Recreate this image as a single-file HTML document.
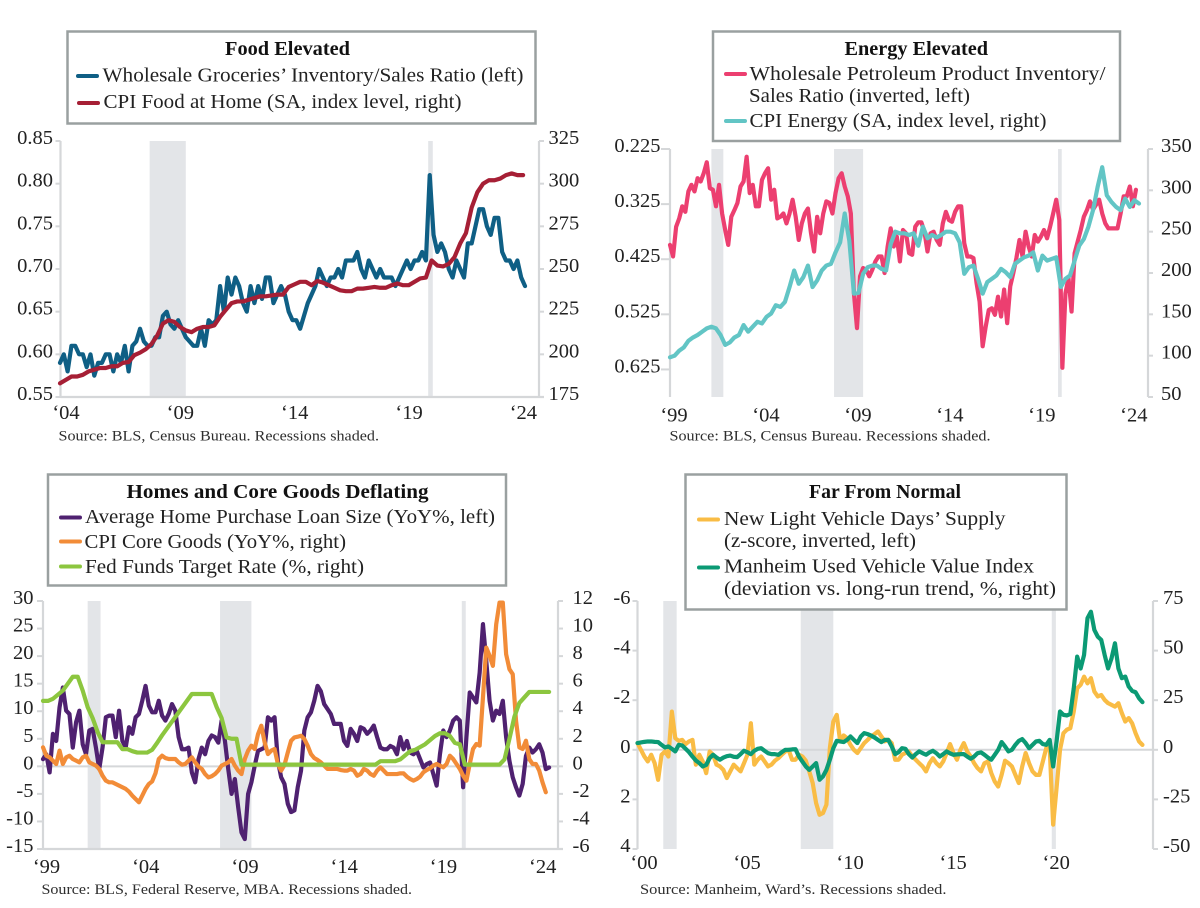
<!DOCTYPE html>
<html lang="en">
<head>
<meta charset="utf-8">
<title>Inventory and Price Charts</title>
<style>
html,body{margin:0;padding:0;background:#fff;}
svg{display:block;filter:blur(0.3px);}
text{font-family:"Liberation Serif",serif;fill:#222;}
.tick{font-size:20.5px;}
.leg{font-size:20.5px;}
.ttl{font-size:20.5px;font-weight:bold;fill:#111;}
.src{font-size:15px;fill:#2e2e2e;}
.box{fill:#fff;stroke:#9aa0a0;stroke-width:2.5;}
</style>
</head>
<body>
<svg id="page" xmlns="http://www.w3.org/2000/svg" width="1200" height="908" viewBox="0 0 1200 908">
<rect x="0" y="0" width="1200" height="908" fill="#fff"/>
<g id="plot-food"></g>
<g id="plot-energy"></g>
<g id="plot-homes"></g>
<g id="plot-vehicles"></g>

<g>
<rect class="box" x="67.5" y="31.5" width="468" height="92"/>
<text class="ttl" x="225" y="55" textLength="125" lengthAdjust="spacingAndGlyphs">Food Elevated</text>
<line x1="78" x2="97" y1="76" y2="76" stroke="#0f5f85" stroke-width="4" stroke-linecap="round"/>
<text class="leg" x="102.5" y="81.5" textLength="421" lengthAdjust="spacingAndGlyphs">Wholesale Groceries’ Inventory/Sales Ratio (left)</text>
<line x1="79" x2="98" y1="103" y2="103" stroke="#a61f35" stroke-width="4" stroke-linecap="round"/>
<text class="leg" x="103.5" y="108" textLength="358" lengthAdjust="spacingAndGlyphs">CPI Food at Home (SA, index level, right)</text>
</g>

<g>
<rect class="box" x="713" y="31.5" width="407" height="109.5"/>
<text class="ttl" x="844.5" y="55" textLength="143.5" lengthAdjust="spacingAndGlyphs">Energy Elevated</text>
<line x1="726" x2="745" y1="74" y2="74" stroke="#ec3f70" stroke-width="4" stroke-linecap="round"/>
<text class="leg" x="749.5" y="80" textLength="356" lengthAdjust="spacingAndGlyphs">Wholesale Petroleum Product Inventory/</text>
<text class="leg" x="749" y="102" textLength="221" lengthAdjust="spacingAndGlyphs">Sales Ratio (inverted, left)</text>
<line x1="726" x2="745" y1="121" y2="121" stroke="#62c5c5" stroke-width="4" stroke-linecap="round"/>
<text class="leg" x="749.5" y="127" textLength="297" lengthAdjust="spacingAndGlyphs">CPI Energy (SA, index level, right)</text>
</g>

<g>
<rect class="box" x="48" y="474.5" width="458" height="111"/>
<text class="ttl" x="126.5" y="498" textLength="302" lengthAdjust="spacingAndGlyphs">Homes and Core Goods Deflating</text>
<line x1="61" x2="80" y1="517.5" y2="517.5" stroke="#4f2170" stroke-width="4" stroke-linecap="round"/>
<text class="leg" x="85" y="523" textLength="410" lengthAdjust="spacingAndGlyphs">Average Home Purchase Loan Size (YoY%, left)</text>
<line x1="61" x2="80" y1="541.5" y2="541.5" stroke="#f28c38" stroke-width="4" stroke-linecap="round"/>
<text class="leg" x="84.5" y="548" textLength="261.5" lengthAdjust="spacingAndGlyphs">CPI Core Goods (YoY%, right)</text>
<line x1="61" x2="80" y1="566.5" y2="566.5" stroke="#8cc63f" stroke-width="4" stroke-linecap="round"/>
<text class="leg" x="85" y="573" textLength="279" lengthAdjust="spacingAndGlyphs">Fed Funds Target Rate (%, right)</text>
</g>

<g>
<rect class="box" x="685.5" y="474.5" width="381" height="135"/>
<text class="ttl" x="809" y="498" textLength="152" lengthAdjust="spacingAndGlyphs">Far From Normal</text>
<line x1="699" x2="718" y1="519.5" y2="519.5" stroke="#f9bc45" stroke-width="4" stroke-linecap="round"/>
<text class="leg" x="724" y="525" textLength="281.5" lengthAdjust="spacingAndGlyphs">New Light Vehicle Days’ Supply</text>
<text class="leg" x="724" y="547" textLength="192" lengthAdjust="spacingAndGlyphs">(z-score, inverted, left)</text>
<line x1="699" x2="718" y1="567.5" y2="567.5" stroke="#0b9a74" stroke-width="4" stroke-linecap="round"/>
<text class="leg" x="724" y="572.5" textLength="310" lengthAdjust="spacingAndGlyphs">Manheim Used Vehicle Value Index</text>
<text class="leg" x="724" y="595" textLength="332" lengthAdjust="spacingAndGlyphs">(deviation vs. long-run trend, %, right)</text>
</g>

<text class="src" x="58.5" y="440.5" textLength="320.5" lengthAdjust="spacingAndGlyphs">Source: BLS, Census Bureau. Recessions shaded.</text>
<text class="src" x="669.5" y="440.5" textLength="321" lengthAdjust="spacingAndGlyphs">Source: BLS, Census Bureau. Recessions shaded.</text>
<text class="src" x="41.5" y="894" textLength="370.5" lengthAdjust="spacingAndGlyphs">Source: BLS, Federal Reserve, MBA. Recessions shaded.</text>
<text class="src" x="640" y="894" textLength="306.5" lengthAdjust="spacingAndGlyphs">Source: Manheim, Ward’s. Recessions shaded.</text>
</svg>

<script>
/* ---------- shared recession dates (decimal years) ---------- */
const recessionStarts = [2001.25, 2007.92, 2020.1];
const recessionEnds = [2001.9, 2009.5, 2020.3];

/* ---------- Food Elevated ---------- */
const foodYearTicks = [2004, 2009, 2014, 2019, 2024];
const foodYearLabels = ['‘04', '‘09', '‘14', '‘19', '‘24'];
const foodLeftTicks = [0.85, 0.80, 0.75, 0.70, 0.65, 0.60, 0.55];
const foodLeftLabels = ['0.85', '0.80', '0.75', '0.70', '0.65', '0.60', '0.55'];
const foodRightTicks = [325, 300, 275, 250, 225, 200, 175];
const foodInventoryValues = [
 .59,.60,.58,.61,.61,.60,
 .60,.585,.60,.575,.59,.59,
 .60,.60,.58,.60,.59,.61,
 .58,.61,.615,.63,.615,.61,
 .61,.62,.62,.645,.65,.635,
 .63,.64,.63,.62,.615,.61,
 .61,.63,.61,.64,.635,.64,
 .68,.65,.69,.67,.69,.68,
 .66,.65,.68,.66,.68,.665,
 .69,.69,.66,.67,.68,.67,
 .65,.64,.64,.63,.645,.66,
 .67,.68,.70,.69,.68,.69,
 .69,.70,.69,.71,.71,.71,
 .72,.70,.69,.71,.70,.69,
 .70,.69,.69,.69,.68,.69,
 .70,.71,.70,.71,.71,.72,
 .71,.81,.74,.72,.73,.72,
 .70,.69,.71,.70,.69,.73,
 .73,.75,.77,.77,.75,.74,
 .76,.76,.72,.71,.71,.70,
 .71,.69,.68];
const foodCpiValues = [
 183,185,187,187, 188,190,191,192, 192,193,193,195, 195.5,199.5,201,203,
 206,211,218,220, 219,216,214,213, 215,216,216,217, 222,226,230,231,
 231,232,233,234, 234,234.5,235,235, 239.5,241,242.5,242.5, 240.5,243,242,240.5,
 239,237.5,237,237, 238.5,238.5,239,239.5, 239,239,240.5,241.5, 240.5,240.5,242.5,244.5,
 245,255,252,251.5, 253,257,265,271, 286,295,300,302, 302,303,305,306, 305,305];

/* ---------- Energy Elevated ---------- */
const energyYearTicks = [1999, 2004, 2009, 2014, 2019, 2024];
const energyYearLabels = ['‘99', '‘04', '‘09', '‘14', '‘19', '‘24'];
const energyLeftTicks = [0.225, 0.325, 0.425, 0.525, 0.625];
const energyLeftLabels = ['0.225', '0.325', '0.425', '0.525', '0.625'];
const energyRightTicks = [350, 300, 250, 200, 150, 100, 50];
const energyInventoryValues = [
 .399,.420,.366,.351,.329,.339,
 .302,.290,.302,.278,.284,.269,
 .249,.296,.299,.329,.290,.342,
 .372,.399,.348,.336,.323,.293,
 .284,.239,.305,.290,.329,.329,
 .281,.269,.260,.317,.299,.351,
 .348,.342,.360,.342,.317,.348,
 .390,.360,.342,.333,.378,.411,
 .348,.378,.342,.320,.323,.342,
 .305,.278,.269,.293,.311,.342,
 .487,.550,.456,.441,.444,.456,
 .444,.429,.420,.420,.450,.402,
 .369,.402,.384,.429,.372,.378,
 .414,.417,.366,.358,.358,.375,
 .411,.378,.375,.390,.399,.360,
 .339,.354,.357,.339,.329,.329,
 .396,.420,.420,.423,.468,.502,
 .583,.547,.517,.514,.526,.493,
 .529,.480,.541,.474,.450,.423,
 .390,.420,.375,.402,.420,.381,
 .393,.384,.372,.387,.366,.342,
 .317,.354,.622,.487,.459,.520,
 .414,.393,.372,.348,.336,.320,
 .335,.326,.317,.342,.360,.369,
 .369,.369,.369,.342,.311,.311,
 .293,.329,.299];
const energyCpiValues = [
 98,100,106,110, 118,122,125,129, 133,135,133,125, 113,116,122,125,
 137,129,135,141, 139,147,151,161, 159,165,183,203, 187,195,209,183,
 191,203,209,211, 225,237,272,239, 175,176,199,207, 209,209,205,203,
 235,250,248,248, 246,248,233,256, 242,246,243,246, 250,250,248,237,
 199,207,209,193, 175,189,193,197, 205,201,195,211, 215,219,221,225,
 203,221,215,217, 219,183,193,197, 215,233,241,256, 276,304,328,294,
 286,280,276,290, 280,288,284];

/* ---------- Homes and Core Goods Deflating ---------- */
const homesYearTicks = [1999, 2004, 2009, 2014, 2019, 2024];
const homesYearLabels = ['‘99', '‘04', '‘09', '‘14', '‘19', '‘24'];
const homesLeftTicks = [30, 25, 20, 15, 10, 5, 0, -5, -10, -15];
const homesRightTicks = [12, 10, 8, 6, 4, 2, 0, -2, -4, -6];
const loanSizeValues = [
 1.3,2.2,-1.1,5.9,4.6,10.7,
 14.3,10.1,9.5,3.4,8,10.1,
 4,2.2,6.5,6.8,3.4,-.5,
 3.4,8.9,9.2,9.2,5.3,10.1,
 4.6,3.4,7.1,5.9,8.9,9.5,
 11.9,14.6,11,9.8,9.8,11.9,
 9.2,8.3,9.5,11.3,10.1,5.3,
 3.1,3.1,3.4,-1.1,-2.9,1.3,
 3.4,2.2,4.6,5.6,5.3,4.3,
 8.3,4.6,-.5,-5,-2.3,-7.4,
 -12,-13.2,-5,-2.9,.1,2.8,
 3.1,3.4,8.9,8.3,8.9,1,
 -2,-3.2,-6.8,-8.3,-8,-3.8,
 -.8,6.5,8.9,9.8,11.9,14.6,
 13.6,11.3,10.4,9.5,7.7,7.7,
 7.7,4.6,3.7,6.8,5.9,4.6,
 7.1,6.8,5.9,6.5,7.4,5.3,
 3.4,3.1,3.1,3.7,3.4,2.2,
 5.3,3.1,4.6,2.5,2.2,2.8,
 1.3,-.2,.4,.7,-1.4,-3.5,
 2.2,6.5,5.3,6.5,8.3,8.9,
 8.3,-3.8,5.3,13.4,12.5,11.6,
 17,25.8,19.1,11.9,8.3,10.1,
 9.5,11.9,5.3,1,-2,-3.8,
 -5.3,-3.2,1.9,3.4,2.5,3.1,
 4,2.5,-.5,-.2];
const coreGoodsValues = [
 1.38,.77,.65,.41,.17,1.14,
 .17,.65,.77,.53,.41,.29,
 .65,.77,.29,.17,.05,-.19,
 -.68,-1.04,-1.16,-1.16,-1.28,-1.4,
 -1.52,-1.64,-1.84,-2.13,-2.37,-2.61,
 -2.13,-1.64,-1.28,-1.09,-.51,.53,
 .77,.6,.53,.53,.53,.29,
 .12,.17,.41,.65,.29,-.02,
 -.19,-.56,-.8,-.72,-.56,-.31,
 .05,.17,.29,.53,.05,-.31,
 -.56,.53,1.14,1.5,1.26,2.34,
 2.95,1.74,.89,1.14,1.26,.17,
 -.31,.1,1.01,1.86,2.1,2.15,
 2.22,1.98,1.5,.89,.6,.46,
 .29,.05,-.19,-.19,-.19,-.19,
 -.27,-.31,-.31,-.19,-.31,-.68,
 -.56,-.19,-.31,-.56,-.68,-.31,
 -.07,-.31,-.56,-.56,-.56,-.56,
 -.51,-.51,-.75,-.92,-1.04,-.92,
 -.75,-.43,-.27,-.14,.05,.17,
 .05,-.07,.17,.77,.53,.17,
 -.19,-.68,-1.04,.17,1.26,1.62,
 1.5,5,8.62,8.02,7.29,10.31,
 11.88,11.88,8.14,7.05,6.69,3.31,
 1.38,1.26,1.86,.53,.17,.17,
 -.31,-1.16,-1.88];
const fedFundsValues = [
 4.75,4.75,4.9,5.2, 5.5,6,6.5,6.5, 5.5,4.3,3.5,2.5, 1.75,1.75,1.75,1.75,
 1.25,1.25,1.1,1, 1,1,1.2,1.7, 2.25,2.75,3.25,3.75, 4.25,4.75,5.25,5.25,
 5.25,5.25,5.25,4.3, 3.5,2.1,2,2, .125,.125,.125,.125, .125,.125,.125,.125,
 .125,.125,.125,.125, .125,.125,.125,.125, .125,.125,.125,.125, .125,.125,.125,.125,
 .125,.125,.125,.125, .375,.375,.375,.375, .5,.8,1.1,1.2, 1.4,1.6,1.9,2.2,
 2.4,2.4,2.2,1.7, 1.6,.125,.125,.125, .125,.125,.125,.125, .125,.5,2,3.6,
 4.6,5,5.4,5.4, 5.4,5.4,5.4];

/* ---------- Far From Normal ---------- */
const vehicleYearTicks = [2000, 2005, 2010, 2015, 2020];
const vehicleYearLabels = ['‘00', '‘05', '‘10', '‘15', '‘20'];
const vehicleLeftTicks = [-6, -4, -2, 0, 2, 4];
const vehicleRightTicks = [75, 50, 25, 0, -25, -50];
const daysSupplyValues = [
 -.27,0,.27,.47,.2,.54,
 1.21,.2,.07,.27,-1.54,-.47,
 -.36,-.4,-.23,-.34,-.4,.6,
 .2,.47,.94,.07,.2,.6,
 .67,.81,1.14,.87,.6,.74,
 .87,.54,.2,-1.07,.6,.4,
 .27,.47,.67,.6,.44,.34,
 .2,.07,0,.4,.4,.2,
 .27,.44,.87,1.34,2.15,2.62,
 2.55,2.21,-.07,-1.14,-1.41,-.34,
 -.58,-.47,-.2,0,.13,-.07,
 -.27,-.4,-.54,-.63,-.74,-.54,
 -.34,-.4,-.27,.4,.4,.2,
 .13,.07,.27,.4,.54,.67,
 .87,.54,.34,.54,.67,.47,
 .13,-.23,.13,.4,0,-.27,
 .07,.27,.54,.74,.87,.54,
 .47,.94,1.28,1.48,1.01,.44,
 .54,.67,1.01,1.34,.67,.13,
 .54,.87,1.01,1.01,.47,-.07,
 -.07,3.02,1.54,0,-.67,-.81,
 -.87,-1.54,-2.48,-2.62,-2.95,-2.68,
 -2.89,-2.35,-2.15,-2.21,-2.01,-1.88,
 -1.81,-1.74,-1.88,-1.48,-1.14,-1.28,
 -1.07,-.67,-.34,-.2];
const manheimValues = [
 3.4,3.7,4,4.2,4.2,4,
 3.9,2.5,1.2,1.7,.5,-.8,
 2.5,2.2,.5,-1.2,-3.4,-5.4,
 -6.7,-8.4,-7.6,-4.2,-2.5,-3.9,
 -5,-3.9,-3.2,-2.9,-3.5,-3.7,
 -2.2,-.5,-1.2,-2.2,-.5,.5,
 .8,-.5,-1.7,-2.2,-2.2,-2.5,
 -1.2,0,0,.2,.3,-3.4,
 -5.9,-8.4,-10.1,-8.4,-6.7,-15.1,
 -13.4,-10.1,-5,.8,4.5,4.2,
 3.9,5,6.7,5,3.4,6.7,
 8.4,7.9,7.2,6.2,5,3.9,
 5,5,1.7,-2.2,-1.2,.8,
 .5,-2.2,-3.9,-2.2,-.8,-1.7,
 -2.5,-1.3,-.5,-1.7,-3.4,-2.2,
 -.8,-1.8,-2.5,-2.3,-2.2,-2.2,
 -3.4,-4.5,-3.4,-1.7,-1.3,-2.5,
 -3.9,-5,-2.5,0,3.9,1.7,
 -.8,0,2.5,4.5,5.4,3.4,
 .8,2.5,4.2,4.5,2.9,2.5,
 5,-8.4,4.2,19.3,17.6,17.3,
 18,31,47,41,47.8,66.3,
 69.6,60.4,57,55.4,47.8,41,
 46.1,53.7,41,36.1,36.9,31.9,
 29.7,29,26,24];

/* ---------- rendering ---------- */
const SVGNS = 'http://www.w3.org/2000/svg';
const AXIS_COLOR = '#d5d7d9';
const RECESSION_COLOR = '#e3e5e8';

function linearScale(d0, d1, r0, r1) {
  return function (v) { return r0 + (v - d0) * (r1 - r0) / (d1 - d0); };
}

function addLine(parent, x1, y1, x2, y2, color, width) {
  const el = document.createElementNS(SVGNS, 'line');
  el.setAttribute('x1', x1);
  el.setAttribute('y1', y1);
  el.setAttribute('x2', x2);
  el.setAttribute('y2', y2);
  el.setAttribute('stroke', color);
  el.setAttribute('stroke-width', width);
  parent.appendChild(el);
  return el;
}

function addLabel(parent, x, y, anchor, content) {
  const el = document.createElementNS(SVGNS, 'text');
  el.setAttribute('class', 'tick');
  el.setAttribute('x', x);
  el.setAttribute('y', y);
  el.setAttribute('text-anchor', anchor);
  el.textContent = content;
  parent.appendChild(el);
  return el;
}

function drawSeries(parent, name, values, startYear, perYear, xScale, yScale, color) {
  let d = '';
  values.forEach(function (v, i) {
    const x = xScale(startYear + i / perYear);
    const y = yScale(v);
    d += (i === 0 ? 'M' : 'L') + x.toFixed(2) + ' ' + y.toFixed(2);
  });
  const el = document.createElementNS(SVGNS, 'path');
  el.setAttribute('d', d);
  el.setAttribute('fill', 'none');
  el.setAttribute('stroke', color);
  el.setAttribute('stroke-width', '4.2');
  el.setAttribute('stroke-linejoin', 'round');
  el.setAttribute('stroke-linecap', 'round');
  
  
  parent.appendChild(el);
}

function drawFrame(c) {
  const g = document.getElementById(c.id);
  const x = c.x;

  c.recessions.forEach(function (idx) {
    const r = document.createElementNS(SVGNS, 'rect');
    r.setAttribute('x', x(recessionStarts[idx]));
    r.setAttribute('y', c.top);
    r.setAttribute('width', x(recessionEnds[idx]) - x(recessionStarts[idx]));
    r.setAttribute('height', c.bottom - c.top);
    r.setAttribute('fill', RECESSION_COLOR);
    
    
    g.appendChild(r);
  });

  if (c.zeroY !== undefined) {
    const z = addLine(g, c.left, c.zeroY, c.right, c.zeroY, AXIS_COLOR, 2);
    
    
  }

  const la = addLine(g, c.left, c.top, c.left, c.bottom, AXIS_COLOR, 2.2);
  
  
  const ra = addLine(g, c.right, c.top, c.right, c.bottom, AXIS_COLOR, 2.2);
  
  
  if (c.hasBottom) {
    const ba = addLine(g, c.left, c.bottom, c.right + 5, c.bottom, AXIS_COLOR, 2.2);
    
    
  }

  c.leftTicks.forEach(function (v, i) {
    const y = c.yLeft(v);
    const t = addLine(g, c.left - c.leftTickLen, y, c.left, y, AXIS_COLOR, 2);
    
    
    const l = addLabel(g, c.leftLabelX, y + 3, 'end', c.leftLabels ? c.leftLabels[i] : String(v));
    
    
  });

  c.rightTicks.forEach(function (v) {
    const y = c.yRight(v);
    const t = addLine(g, c.right, y, c.right + 5, y, AXIS_COLOR, 2);
    
    
    const l = addLabel(g, c.rightLabelX, y + 3, 'start', String(v));
    
    
  });

  c.yearTicks.forEach(function (yr, i) {
    const l = addLabel(g, x(yr) + c.yearLabelShift, c.yearLabelY, 'middle', c.yearLabels[i]);
    
    
  });
  return g;
}

/* Food */
const foodX = linearScale(2004, 2024, 60, 517.4);
const foodYL = linearScale(0.85, 0.55, 141, 397);
const foodYR = linearScale(325, 175, 141, 397);
const foodG = drawFrame({
  id: 'plot-food', key: 'food', x: foodX, top: 141, bottom: 397, left: 60.5, right: 539,
  recessions: [1, 2], hasBottom: true, yLeft: foodYL, yRight: foodYR,
  leftTicks: foodLeftTicks, leftLabels: foodLeftLabels, rightTicks: foodRightTicks,
  leftTickLen: 5, leftLabelX: 53, rightLabelX: 548.5,
  yearTicks: foodYearTicks, yearLabels: foodYearLabels, yearLabelShift: 6, yearLabelY: 419
});
drawSeries(foodG, 'food-inventory', foodInventoryValues, 2004, 6, foodX, foodYL, '#0f5f85');
drawSeries(foodG, 'food-cpi', foodCpiValues, 2004, 4, foodX, foodYR, '#a61f35');

/* Energy */
const energyX = linearScale(1999, 2024, 670, 1129.8);
const energyYL = linearScale(0.225, 0.675, 149, 397);
const energyYR = linearScale(350, 50, 149, 397);
const energyG = drawFrame({
  id: 'plot-energy', key: 'energy', x: energyX, top: 149, bottom: 397, left: 670, right: 1148,
  recessions: [0, 1, 2], hasBottom: false, yLeft: energyYL, yRight: energyYR,
  leftTicks: energyLeftTicks, leftLabels: energyLeftLabels, rightTicks: energyRightTicks,
  leftTickLen: 9, leftLabelX: 660.5, rightLabelX: 1161,
  yearTicks: energyYearTicks, yearLabels: energyYearLabels, yearLabelShift: 4, yearLabelY: 421.5
});
drawSeries(energyG, 'energy-inventory', energyInventoryValues, 1999, 6, energyX, energyYL, '#ec3f70');
drawSeries(energyG, 'energy-cpi', energyCpiValues, 1999, 4, energyX, energyYR, '#62c5c5');

/* Homes */
const homesX = linearScale(1999, 2024, 43, 539.2);
const homesYL = linearScale(30, -15, 601, 849);
const homesYR = linearScale(12, -6, 601, 849);
const homesG = drawFrame({
  id: 'plot-homes', key: 'homes', x: homesX, top: 601, bottom: 849, left: 43, right: 558,
  recessions: [0, 1, 2], hasBottom: true, zeroY: homesYL(0), yLeft: homesYL, yRight: homesYR,
  leftTicks: homesLeftTicks, rightTicks: homesRightTicks,
  leftTickLen: 6, leftLabelX: 33.5, rightLabelX: 572.5,
  yearTicks: homesYearTicks, yearLabels: homesYearLabels, yearLabelShift: 3.5, yearLabelY: 873
});
drawSeries(homesG, 'loan-size', loanSizeValues, 1999, 6, homesX, homesYL, '#4f2170');
drawSeries(homesG, 'core-goods', coreGoodsValues, 1999, 6, homesX, homesYR, '#f28c38');
drawSeries(homesG, 'fed-funds', fedFundsValues, 1999, 4, homesX, homesYR, '#8cc63f');

/* Vehicles */
const vehicleX = linearScale(2000, 2020, 637.5, 1049.7);
const vehicleYL = linearScale(-6, 4, 601, 849);
const vehicleYR = linearScale(75, -50, 601, 849);
const vehicleG = drawFrame({
  id: 'plot-vehicles', key: 'vehicles', x: vehicleX, top: 601, bottom: 849, left: 637.5, right: 1153,
  recessions: [0, 1, 2], hasBottom: false, zeroY: vehicleYL(0), yLeft: vehicleYL, yRight: vehicleYR,
  leftTicks: vehicleLeftTicks, rightTicks: vehicleRightTicks,
  leftTickLen: 5, leftLabelX: 630.5, rightLabelX: 1163,
  yearTicks: vehicleYearTicks, yearLabels: vehicleYearLabels, yearLabelShift: 6.5, yearLabelY: 869
});
drawSeries(vehicleG, 'days-supply', daysSupplyValues, 2000, 6, vehicleX, vehicleYL, '#f9bc45');
drawSeries(vehicleG, 'manheim', manheimValues, 2000, 6, vehicleX, vehicleYR, '#0b9a74');
</script>
</body>
</html>
